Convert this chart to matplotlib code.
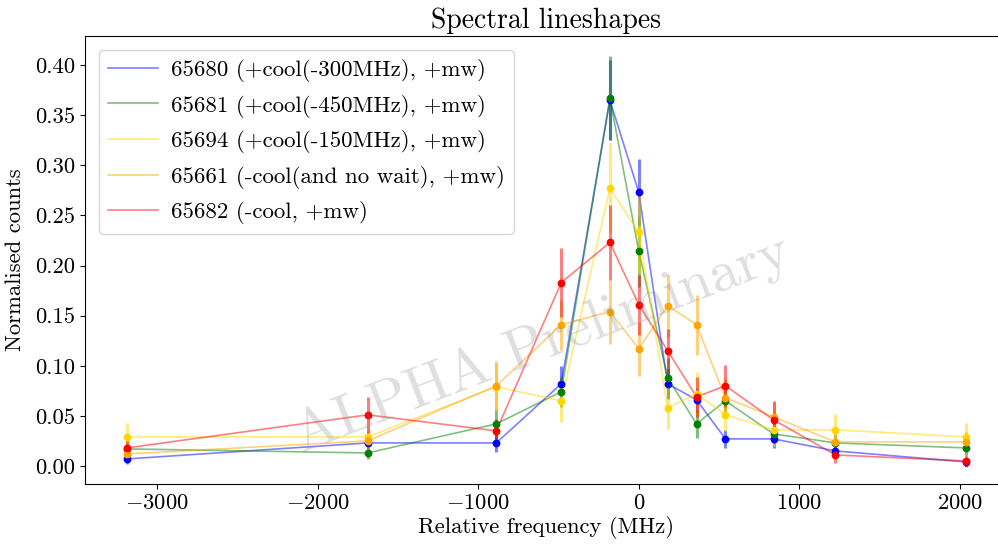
import matplotlib
matplotlib.use("Agg")
import matplotlib.pyplot as plt
from matplotlib.colors import to_rgba

plt.rcParams["font.family"] = "cmr10"
plt.rcParams["mathtext.fontset"] = "cm"
plt.rcParams["axes.formatter.use_mathtext"] = True
plt.rcParams["font.size"] = 16.3

# Relative frequency of each scan point (MHz)
freq = [-3190, -1690, -888, -483, -180, 0, 180, 360, 540, 840, 1225, 2040]

run_labels = [
    "65680 (+cool(-300MHz), +mw)",
    "65681 (+cool(-450MHz), +mw)",
    "65694 (+cool(-150MHz), +mw)",
    "65661 (-cool(and no wait), +mw)",
    "65682 (-cool, +mw)",
]
run_colors = ["blue", "green", "gold", "orange", "red"]

counts_65680 = [0.007, 0.023, 0.023, 0.082, 0.365, 0.273, 0.082, 0.066, 0.027, 0.027, 0.015, 0.004]
counts_65681 = [0.017, 0.013, 0.042, 0.074, 0.367, 0.214, 0.088, 0.042, 0.065, 0.032, 0.023, 0.018]
counts_65694 = [0.029, 0.029, 0.079, 0.065, 0.277, 0.233, 0.058, 0.072, 0.051, 0.036, 0.036, 0.029]
counts_65661 = [0.012, 0.025, 0.080, 0.141, 0.154, 0.117, 0.160, 0.141, 0.068, 0.049, 0.024, 0.024]
counts_65682 = [0.018, 0.051, 0.035, 0.183, 0.223, 0.161, 0.115, 0.069, 0.080, 0.046, 0.011, 0.005]

err_65680 = [0.005, 0.006, 0.009, 0.018, 0.040, 0.033, 0.015, 0.012, 0.009, 0.009, 0.006, 0.004]
err_65681 = [0.006, 0.006, 0.015, 0.015, 0.042, 0.035, 0.020, 0.014, 0.015, 0.010, 0.008, 0.007]
err_65694 = [0.014, 0.010, 0.024, 0.021, 0.045, 0.040, 0.021, 0.022, 0.016, 0.016, 0.016, 0.014]
err_65661 = [0.008, 0.010, 0.025, 0.025, 0.032, 0.027, 0.032, 0.030, 0.020, 0.015, 0.010, 0.010]
err_65682 = [0.008, 0.018, 0.012, 0.034, 0.037, 0.030, 0.022, 0.020, 0.021, 0.019, 0.008, 0.006]

all_counts = [counts_65680, counts_65681, counts_65694, counts_65661, counts_65682]
all_errs = [err_65680, err_65681, err_65694, err_65661, err_65682]

fig = plt.figure(figsize=(9.98, 5.44), dpi=100)
ax = fig.add_axes([85 / 998, 1 - 484 / 544, (1008 - 85) / 998, (484 - 36) / 544])

for lab, col, y, e in zip(run_labels, run_colors, all_counts, all_errs):
    ax.plot(freq, y, color=col, alpha=0.5, lw=1.2, label=lab)
    ax.errorbar(freq, y, yerr=e, fmt="o", color=col, ms=4.6,
                ecolor=to_rgba(col, 0.5), elinewidth=2.2, capsize=0)

ax.text(0.495, 0.31, "ALPHA Preliminary", transform=ax.transAxes,
        ha="center", va="center", rotation=21, fontsize=42,
        color="0.5", alpha=0.25)

ax.set_xlim(-3451, 2301)
ax.set_ylim(-0.018, 0.429)
ax.set_xticks([-3000, -2000, -1000, 0, 1000, 2000])
ax.set_yticks([0.0, 0.05, 0.10, 0.15, 0.20, 0.25, 0.30, 0.35, 0.40])
ax.yaxis.set_major_formatter(matplotlib.ticker.FormatStrFormatter("%.2f"))

ax.set_title("Spectral lineshapes", fontsize=20)
ax.set_xlabel("Relative frequency (MHz)", labelpad=2)
ax.set_ylabel("Normalised counts", labelpad=7)

ax.legend(loc="upper left", fontsize=16.5, borderaxespad=0.6,
          handlelength=2.2, handletextpad=0.55, labelspacing=0.55)

fig.savefig("out.png", dpi=100)
